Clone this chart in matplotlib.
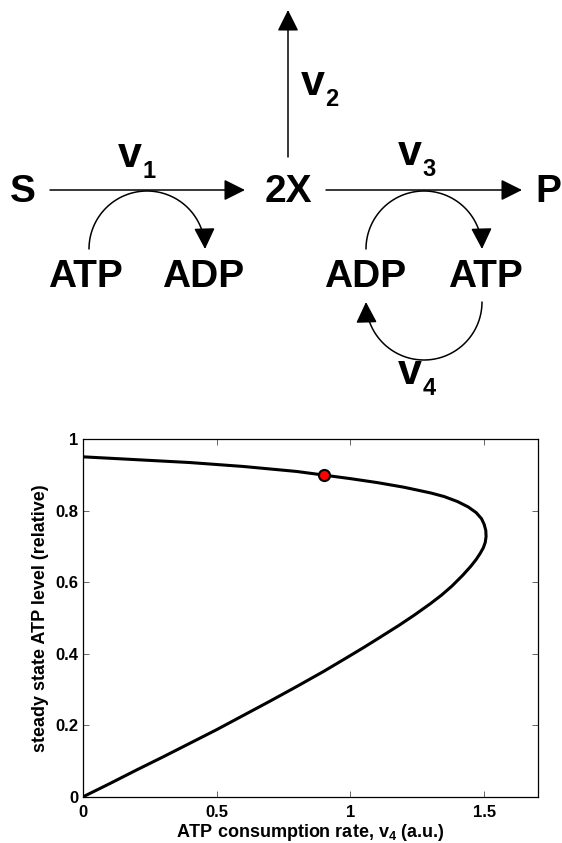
import numpy as np
import matplotlib
matplotlib.use("Agg")
import matplotlib.pyplot as plt
from matplotlib.patches import FancyArrowPatch
from matplotlib.path import Path

plt.rcParams['font.family'] = ['Liberation Sans', 'DejaVu Sans']
plt.rcParams['font.weight'] = 'bold'
plt.rcParams['mathtext.fontset'] = 'custom'
plt.rcParams['mathtext.rm'] = 'Liberation Sans:bold'
plt.rcParams['mathtext.bf'] = 'Liberation Sans:bold'

# steady state curve (upper branch, nose, lower branch)
v4_rate = [0.0, 0.2, 0.4, 0.6, 0.8, 0.9, 1.0, 1.1, 1.2, 1.3, 1.35, 1.4, 1.44,
           1.47, 1.49, 1.50, 1.506, 1.507, 1.504, 1.497, 1.485, 1.47, 1.45, 1.42,
           1.38, 1.34, 1.30, 1.24, 1.18, 1.11, 1.05, 0.99, 0.9, 0.8, 0.7, 0.6,
           0.5, 0.4, 0.3, 0.2, 0.1, 0.0]
atp_level = [0.951, 0.943, 0.935, 0.924, 0.910, 0.900, 0.890, 0.879, 0.866,
             0.850, 0.840, 0.826, 0.811, 0.795, 0.778, 0.762, 0.745, 0.728,
             0.712, 0.697, 0.681, 0.664, 0.645, 0.620, 0.590, 0.564, 0.541,
             0.509, 0.479, 0.446, 0.418, 0.391, 0.351, 0.309, 0.268, 0.228,
             0.188, 0.150, 0.112, 0.075, 0.037, 0.0]

marker_x = [0.9]
marker_y = [0.9]

x_ticks = [0, 0.5, 1, 1.5]
x_ticklabels = ["0", "0.5", "1", "1.5"]
y_ticks = [0, 0.2, 0.4, 0.6, 0.8, 1]
y_ticklabels = ["0", "0.2", "0.4", "0.6", "0.8", "1"]

fig = plt.figure(figsize=(5.62, 8.43), dpi=100)

# ---- reaction scheme (pixel coordinates of the top half) ----
ax0 = fig.add_axes([0, 0.5, 1, 0.5])
ax0.set_xlim(0, 562)
ax0.set_ylim(421.5, 0)
ax0.axis('off')

head = '-|>,head_length=13,head_width=6.5'


def arrow(p0, p1):
    a = FancyArrowPatch(p0, p1, arrowstyle=head, mutation_scale=1, lw=1.1,
                        color='k', shrinkA=0, shrinkB=0)
    ax0.add_patch(a)


def arc_arrow(cx, cy, r, t0, t1):
    t = np.radians(np.linspace(t0, t1, 60))
    verts = np.column_stack([cx + r * np.cos(t), cy - r * np.sin(t)])
    a = FancyArrowPatch(path=Path(verts), arrowstyle=head, mutation_scale=1,
                        lw=1.1, color='k')
    ax0.add_patch(a)


arrow((50, 190), (245, 190))
arrow((288, 157), (288, 10))
arrow((326, 190), (522, 190))

ax0.text(23, 192, "S", fontsize=28, ha='center', va='center')
ax0.text(288, 192, "2X", fontsize=28, ha='center', va='center')
ax0.text(548, 192, "P", fontsize=28, ha='center', va='center')

ax0.text(85, 277, "ATP", fontsize=28, ha='center', va='center')
ax0.text(203, 277, "ADP", fontsize=28, ha='center', va='center')
ax0.text(365, 277, "ADP", fontsize=28, ha='center', va='center')
ax0.text(485, 277, "ATP", fontsize=28, ha='center', va='center')

arc_arrow(147, 249, 58, 180, 0)
arc_arrow(424, 249, 58, 180, 0)
arc_arrow(424, 302, 58, 0, -180)


def rate_label(x, y, sub):
    ax0.text(x, y, "v", fontsize=31, ha='center', va='baseline',
             family=['Liberation Sans Narrow', 'Liberation Sans'])
    ax0.text(x + 19, y + 11, sub, fontsize=17, ha='center', va='baseline')


rate_label(130, 167, "1")
rate_label(313, 95, "2")
rate_label(410, 165, "3")
rate_label(410, 384, "4")

# ---- steady state plot ----
ax = fig.add_axes([0.1472, 0.0546, 0.8096, 0.4243])
ax.plot(v4_rate, atp_level, color='k', lw=2.2, solid_joinstyle='round')
ax.plot(marker_x, marker_y, 'o', ms=8, mfc='red', mec='k', mew=1.5)

ax.set_xlim(0, 1.7)
ax.set_ylim(0, 1)
ax.set_xticks(x_ticks)
ax.set_xticklabels(x_ticklabels, fontweight='bold')
ax.set_yticks(y_ticks)
ax.set_yticklabels(y_ticklabels, fontweight='bold')
ax.tick_params(direction='in', top=True, right=True, length=4, width=0.7,
               labelsize=12, color='0.4')
ax.tick_params(axis='x', pad=5.5)
ax.tick_params(axis='y', pad=3.4)
for s in ax.spines.values():
    s.set_linewidth(0.9)

ax.set_xlabel("ATP consumption rate, v$_\\mathbf{4}$ (a.u.)", fontsize=13,
              fontweight='bold', labelpad=2)
ax.set_ylabel("steady state ATP level (relative)", fontsize=13,
              fontweight='bold', labelpad=4)

fig.savefig("out.png", dpi=100)
